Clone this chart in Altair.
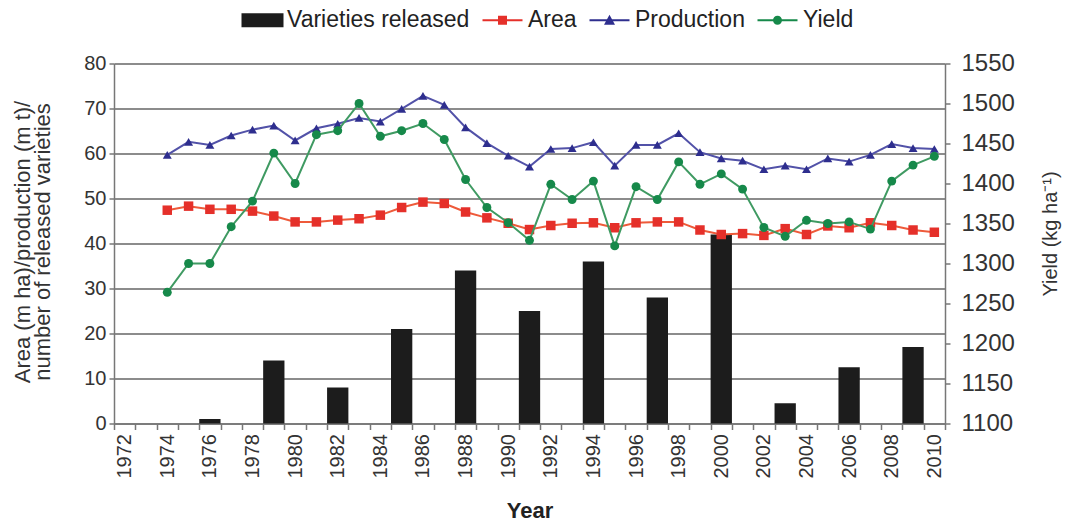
import altair as alt
import pandas as pd

# ---------------- data ----------------
years_all = list(range(1972, 2011))

bar_years = [1976, 1979, 1982, 1985, 1988, 1991, 1994, 1997, 2000, 2003, 2006, 2009]
released = [1, 14, 8, 21, 34, 25, 36, 28, 42, 4.5, 12.5, 17]

line_years = list(range(1974, 2011))
area = [47.4, 48.3, 47.6, 47.6, 47.2, 46.1, 44.8, 44.8, 45.2, 45.5, 46.3, 48.0,
        49.2, 48.9, 47.0, 45.7, 44.5, 43.1, 44.0, 44.5, 44.6, 43.5, 44.6, 44.8,
        44.8, 43.0, 42.0, 42.2, 41.8, 43.3, 42.0, 43.9, 43.5, 44.6, 44.0, 43.0, 42.5]
production = [59.7, 62.6, 61.9, 64.0, 65.3, 66.2, 62.9, 65.6, 66.6, 67.9, 67.1, 69.9,
              72.8, 70.8, 65.8, 62.3, 59.5, 57.1, 61.0, 61.2, 62.5, 57.3, 61.9, 61.9,
              64.5, 60.3, 58.9, 58.4, 56.5, 57.3, 56.5, 58.9, 58.2, 59.7, 62.1, 61.2, 61.0]
yield_ = [1264, 1300, 1300, 1346, 1378, 1438, 1400, 1461, 1466, 1500, 1459, 1466,
          1475, 1455, 1405, 1370, 1351, 1329, 1399, 1380, 1403, 1322, 1396, 1380,
          1427, 1399, 1412, 1393, 1345, 1334, 1354, 1350, 1352, 1343, 1403, 1423, 1434]

legend_names = ["Varieties released", "Area", "Production", "Yield"]
legend_colors = ["#1c1c1c", "#e5302a", "#2e2e8e", "#16894a"]

left_ticks = list(range(0, 81, 10))
right_ticks = list(range(1100, 1551, 50))

bars_df = pd.DataFrame({"year": bar_years, "released": released})
lines_df = pd.DataFrame({"year": line_years, "area": area,
                         "production": production, "yield": yield_})
legend_df = pd.DataFrame({"series": legend_names})

FONT = "Liberation Sans"

# ---------------- scales / axes ----------------
x_scale = alt.Scale(type="band", domain=years_all, paddingInner=0, paddingOuter=0)
x_axis = alt.Axis(
    title="Year", labelExpr="datum.value % 2 == 0 ? datum.label : ''",
    labelAngle=270, labelAlign="right", labelBaseline="middle",
    labelFontSize=20, labelColor="#333", labelPadding=4, labelOverlap=False,
    tickBand="extent", tickSize=6, tickColor="#777", tickWidth=1.5,
    domainColor="#777", domainWidth=1.5, grid=False,
    titleFontSize=22, titleFontWeight="bold", titleColor="#222", titleY=87,
    titleBaseline="middle",
)

yl_scale = alt.Scale(domain=[0, 80], nice=False, zero=True)
yl_axis = alt.Axis(
    title=["Area (m ha)/production (m t)/", "number of released varieties"],
    values=left_ticks, grid=True, gridColor="#8c8c8c", gridWidth=2,
    labelFontSize=20, labelColor="#333", labelPadding=3,
    tickSize=5, tickColor="#777", tickWidth=1.5,
    domainColor="#777", domainWidth=1.5,
    titleX=-92, titleY=178, titleAngle=270, titleAlign="center",
    titleBaseline="middle", titleFontSize=22, titleFontWeight="normal",
    titleColor="#333", titleLineHeight=20,
)

yr_scale = alt.Scale(domain=[1100, 1550], nice=False, zero=False)
yr_axis = alt.Axis(
    title="Yield (kg ha⁻¹)", orient="right", values=right_ticks, grid=False,
    format="d",
    labelFontSize=24, labelColor="#333", labelPadding=11,
    tickSize=5, tickColor="#777", tickWidth=1.5,
    domainColor="#777", domainWidth=1.5,
    titleX=105, titleY=170, titleAngle=270, titleAlign="center",
    titleBaseline="middle", titleFontSize=20, titleFontWeight="normal",
    titleColor="#333",
)

xl = alt.X("year:O", scale=x_scale, axis=x_axis, bandPosition=0.5)

# ---------------- layers ----------------
bars = alt.Chart(bars_df).mark_bar(color="#1c1c1c").encode(
    x=alt.X("year:O", scale=x_scale, axis=x_axis),
    y=alt.Y("released:Q", scale=yl_scale, axis=yl_axis),
)

area_line = alt.Chart(lines_df).mark_line(color="#ee5a3a", strokeWidth=2).encode(
    x=xl, y=alt.Y("area:Q", scale=yl_scale, axis=yl_axis))
area_pts = alt.Chart(lines_df).mark_point(
    shape="square", filled=True, color="#e5302a", size=90, opacity=1).encode(
    x=xl, y=alt.Y("area:Q", scale=yl_scale, axis=yl_axis))

prod_line = alt.Chart(lines_df).mark_line(color="#5252a8", strokeWidth=2).encode(
    x=xl, y=alt.Y("production:Q", scale=yl_scale, axis=yl_axis))
prod_pts = alt.Chart(lines_df).mark_point(
    shape="triangle-up", filled=True, color="#2e2e8e", size=80, opacity=1).encode(
    x=xl, y=alt.Y("production:Q", scale=yl_scale, axis=yl_axis))

# legend symbols (unit = 10 px); all start at the entry's left edge
shape_paths = [
    "M-1,-0.7H3.2V0.7H-1Z",
    "M-1,-0.1H3.0V0.1H-1Z M0.55,-0.45H1.45V0.45H0.55Z",
    "M-1,-0.1H3.0V0.1H-1Z M1.0,-0.55L1.55,0.45H0.45Z",
    "M-1,-0.1H3.0V0.1H-1Z M0.55,0A0.45,0.45 0 1,1 1.45,0A0.45,0.45 0 1,1 0.55,0Z",
]
leg = alt.Legend(
    title=None, orient="none", legendX=126, legendY=-55, direction="horizontal",
    columns=4, symbolSize=400, symbolStrokeWidth=0, labelFont=FONT,
    labelFontSize=23, labelColor="#222", labelOffset=24, columnPadding=11,
    padding=0, symbolOpacity=1, labelLimit=1000,
)
legend_layer = alt.Chart(legend_df).mark_point(filled=True, opacity=1).encode(
    color=alt.Color("series:N", scale=alt.Scale(domain=legend_names, range=legend_colors), legend=leg),
    shape=alt.Shape("series:N", scale=alt.Scale(domain=legend_names, range=shape_paths), legend=leg),
).transform_filter("false")

yield_line = alt.Chart(lines_df).mark_line(color="#3f9a62", strokeWidth=2).encode(
    x=xl, y=alt.Y("yield:Q", scale=yr_scale, axis=yr_axis))
yield_pts = alt.Chart(lines_df).mark_point(
    shape="circle", filled=True, color="#16894a", size=80, opacity=1).encode(
    x=xl, y=alt.Y("yield:Q", scale=yr_scale, axis=yr_axis))

left = alt.layer(bars, area_line, prod_line, area_pts, prod_pts, legend_layer)
right = alt.layer(yield_line, yield_pts)

chart = alt.layer(left, right).resolve_scale(y="independent").properties(
    width=831, height=360,
    autosize=alt.AutoSizeParams(type="none"),
    padding={"left": 106, "top": 55.5, "right": 119, "bottom": 99},
).configure_view(stroke=None).configure_axis(
    labelFont=FONT, titleFont=FONT
).configure_legend(labelFont=FONT)

chart.save("out.html", embed_options={"renderer": "svg", "actions": False})
